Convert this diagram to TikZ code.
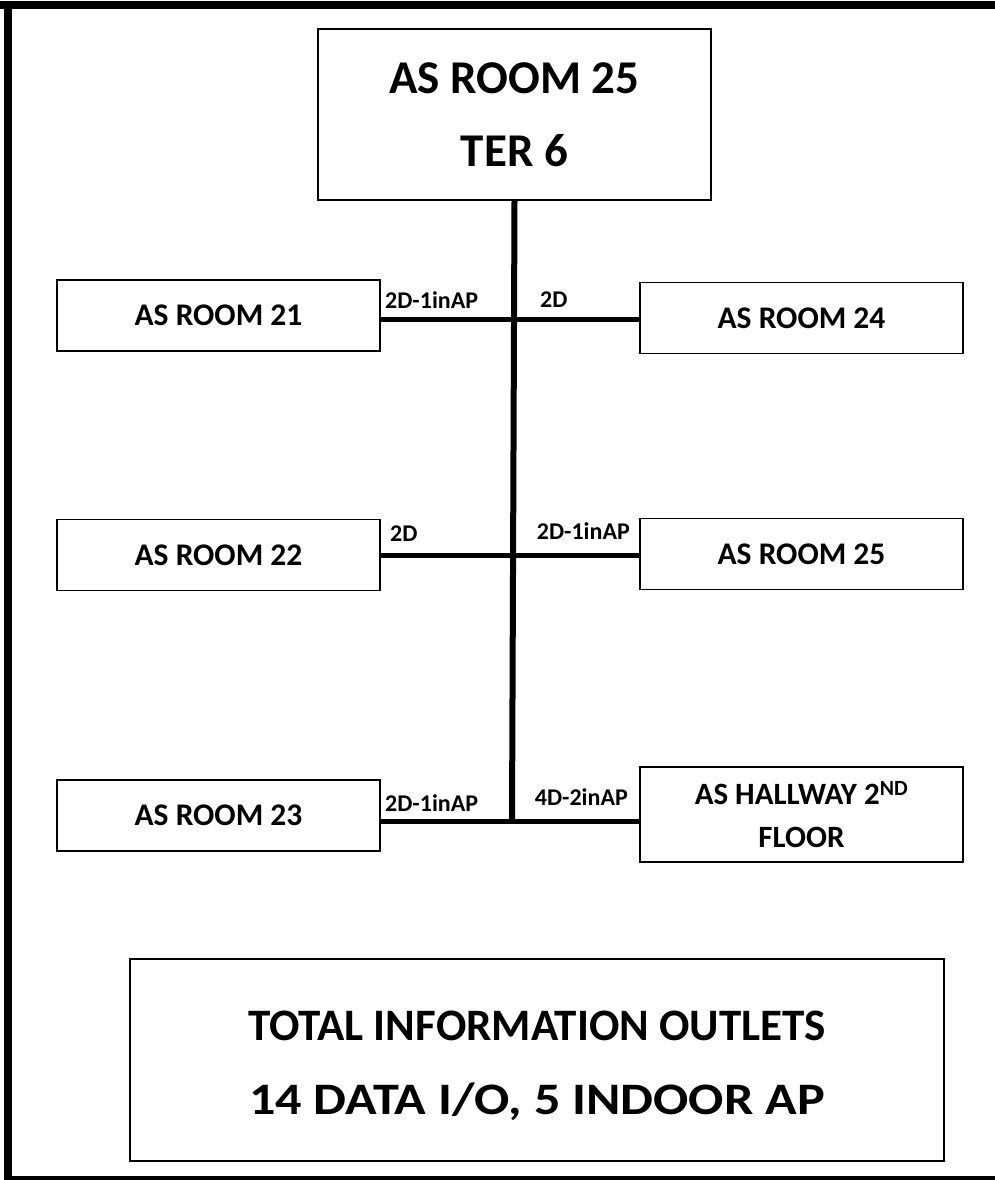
\documentclass[tikz,border=0pt]{standalone}
\usepackage{fontspec}
\setmainfont{Carlito}

\tikzset{
  roombox/.style={draw, line width=1.6pt, minimum width=323pt, minimum height=71pt,
    font=\bfseries\fontsize{31.5}{36}\selectfont, align=center},
  cablelbl/.style={font=\bfseries\fontsize{24}{28}\selectfont, inner sep=0pt},
  trunk/.style={line width=6pt},
  branch/.style={line width=5pt}
}

\begin{document}
\begin{tikzpicture}[x=1pt,y=-1pt]

\useasboundingbox (0,0) rectangle (995,1180);

% Cadre
\fill (0,1) rectangle (995,9);
\fill (4,1) rectangle (12,1180);
\fill (4,1176) rectangle (995,1180);

% Local technique
\node[draw, line width=1.6pt, minimum width=393pt, minimum height=171pt, align=center,
  font=\bfseries\fontsize{47}{73}\selectfont] (ter) at (514.5,114.5)
  {AS ROOM 25\\TER 6};

% Jonctions
\coordinate (j1) at (512,319);
\coordinate (j2) at (512,555);
\coordinate (j3) at (512,821);

% Salles
\node[roombox] (r21) at (218.5,315.5) {AS ROOM 21};
\node[roombox] (r24) at (801.5,318) {AS ROOM 24};
\node[roombox] (r22) at (218.5,555) {AS ROOM 22};
\node[roombox] (r25) at (801.5,554) {AS ROOM 25};
\node[roombox] (r23) at (218.5,815.5) {AS ROOM 23};
\node[roombox, minimum height=95pt, font=\bfseries\fontsize{31}{43}\selectfont] (hall) at (801.5,814.5)
  {AS HALLWAY 2\textsuperscript{ND}\\FLOOR};

% Colonne
\draw[trunk] (ter.south) -- (j3);

% Branches
\draw[branch] (r21.east |- j1) -- (r24.west |- j1);
\draw[branch] (r22.east |- j2) -- (r25.west |- j2);
\draw[branch] (r23.east |- j3) -- (hall.west |- j3);

% Prises
\node[cablelbl, anchor=west] (c21) at (385,300) {2D-1inAP};
\node[cablelbl, anchor=west] (c24) at (540,300) {2D};
\node[cablelbl, anchor=west] (c22) at (390,534) {2D};
\node[cablelbl, anchor=east] (c25) at (630,531) {2D-1inAP};
\node[cablelbl, anchor=west] (c23) at (385,803) {2D-1inAP};
\node[cablelbl, anchor=east] (chall) at (628,797) {4D-2inAP};

% Total
\node[draw, line width=1.6pt, minimum width=814pt, minimum height=202pt, align=center,
  font=\bfseries\fontsize{45}{74}\selectfont] (total) at (537,1060)
  {\rule{0pt}{42pt}TOTAL INFORMATION OUTLETS\\\scalebox{1.16}[1]{14 DATA I/O, 5 INDOOR AP}};

\end{tikzpicture}
\end{document}
